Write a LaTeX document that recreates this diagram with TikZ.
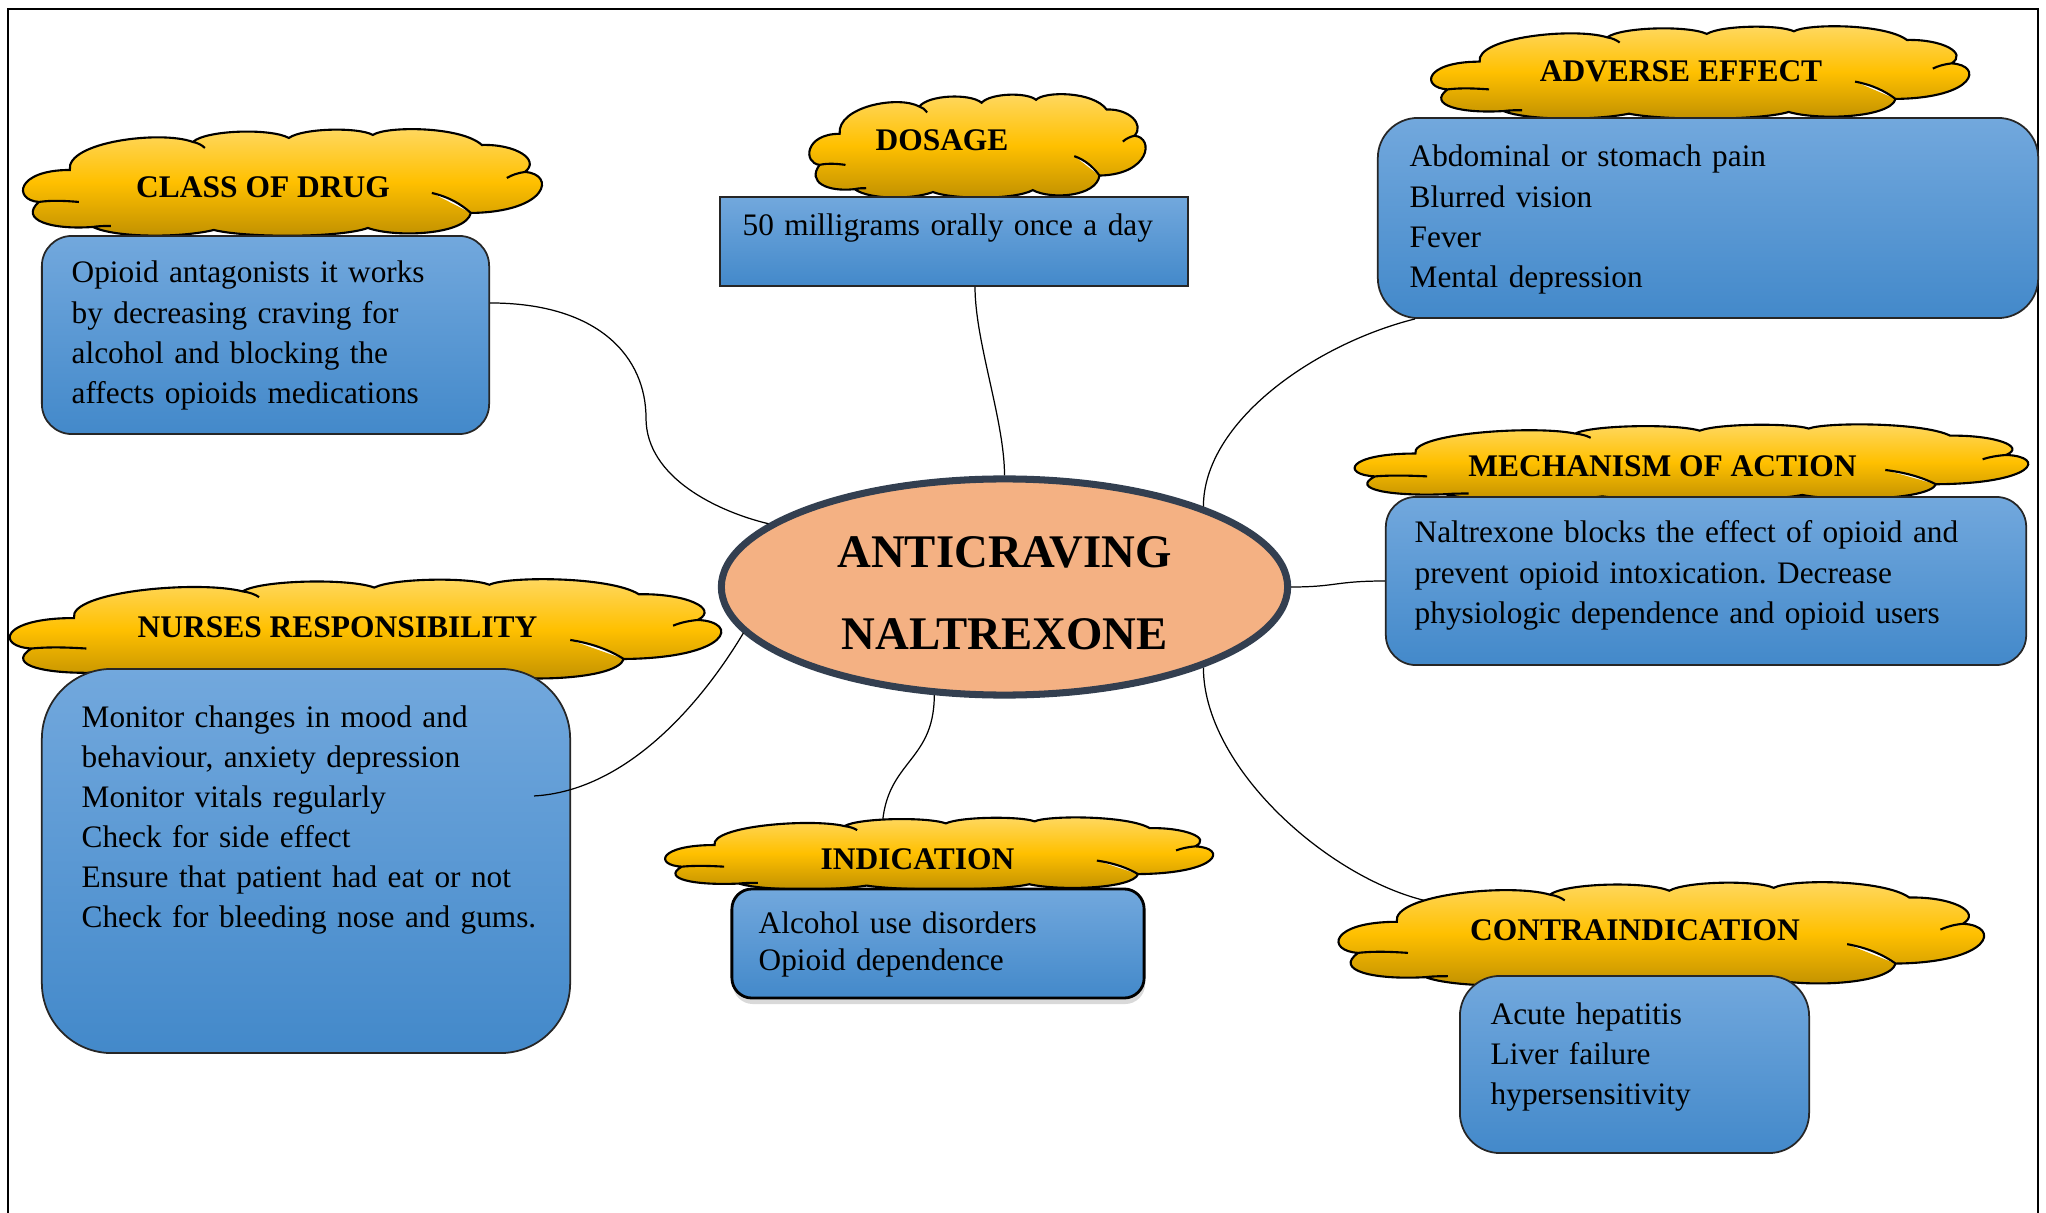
\documentclass[tikz,border=0pt]{standalone}
\usepackage{fontspec}
\setmainfont{Liberation Serif}
\usetikzlibrary{shapes.geometric,shadows,backgrounds}
\definecolor{boxtop}{RGB}{114,168,221}
\definecolor{boxbot}{RGB}{67,137,202}
\definecolor{cloudtop}{RGB}{255,217,100}
\definecolor{cloudmid}{RGB}{255,192,0}
\definecolor{cloudbot}{RGB}{191,143,0}
\definecolor{corefill}{RGB}{244,177,131}
\definecolor{coreline}{RGB}{51,63,80}
\newcommand{\cloudoutline}{(49,40) .. controls (45,12) and (140,0) .. (172,12)
	.. controls (185,0) and (250,-2) .. (268,8) .. controls (282,-2) and (338,-3) .. (352,5)
	.. controls (365,-4) and (440,-4) .. (461,15) .. controls (495,14) and (520,30) .. (504,42)
	.. controls (535,44) and (528,82) .. (450,83) .. controls (445,105) and (375,108) .. (347,98)
	.. controls (320,108) and (225,108) .. (193,100) .. controls (160,108) and (95,108) .. (72,97)
	.. controls (30,100) and (-2,90) .. (18,72) .. controls (-8,70) and (-5,40) .. (49,40) -- cycle}
\newcommand{\cloudcreases}{(18,72) .. controls (32,70) and (46,71) .. (58,72)
	(72,97) .. controls (78,96) and (84,96) .. (90,96)
	(172,12) .. controls (177,13) and (181,15) .. (184,18)
	(504,42) .. controls (497,43) and (491,45) .. (486,48)
	(450,83) .. controls (440,74) and (428,67) .. (411,63)}

\begin{document}
\begin{tikzpicture}[x=0.01cm,y=-0.01cm,font=\fontsize{8.9pt}{11.38pt}\selectfont]
	\frenchspacing
	\tikzset{spot/.style={rectangle, inner sep=0pt, outer sep=0pt}}
	\tikzset{bubble/.style={draw, line width=0.6pt, top color=cloudtop, bottom color=cloudbot, middle color=cloudmid}}
	\tikzset{panel/.style={draw=black!85, line width=0.5pt, top color=boxtop, bottom color=boxbot, inner sep=0pt}}
	\tikzset{heading/.style={anchor=base, inner sep=0pt, font=\fontsize{8.95pt}{11pt}\selectfont\bfseries}}
	\tikzset{body/.style={anchor=base west, inner sep=0pt, align=left}}
	\tikzset{link/.style={draw, line width=0.35pt}}
	\useasboundingbox (0,0) rectangle (2046,1213);
	\draw[line width=0.7pt] (8,1213) -- (8,9) -- (2038,9) -- (2038,1213);
	\node[spot, minimum width=5.2cm, minimum height=1.05cm] (classcloud) at (281,182.5) {};
	\draw[bubble, shift={(classcloud.north west)}] \cloudoutline \cloudcreases;
	\node[spot, minimum width=3.37cm, minimum height=1.02cm] (doscloud) at (976.5,146) {};
	\draw[bubble, shift={(doscloud.north west)}, xscale=0.648, yscale=0.971] \cloudoutline \cloudcreases;
	\node[spot, minimum width=5.39cm, minimum height=0.91cm] (adcloud) at (1698.5,72.5) {};
	\draw[bubble, shift={(adcloud.north west)}, xscale=1.037, yscale=0.867] \cloudoutline \cloudcreases;
	\node[spot, minimum width=6.75cm, minimum height=0.75cm] (mechcloud) at (1689.5,462.5) {};
	\draw[bubble, shift={(mechcloud.north west)}, xscale=1.298, yscale=0.714] \cloudoutline \cloudcreases;
	\node[spot, minimum width=7.13cm, minimum height=1cm] (nursecloud) at (363.5,630) {};
	\draw[bubble, shift={(nursecloud.north west)}, xscale=1.371, yscale=0.952] \cloudoutline \cloudcreases;
	\node[spot, minimum width=5.49cm, minimum height=0.71cm] (indcloud) at (937.5,853.5) {};
	\draw[bubble, shift={(indcloud.north west)}, xscale=1.056, yscale=0.676] \cloudoutline \cloudcreases;
	\node[spot, minimum width=6.47cm, minimum height=1.02cm] (contracloud) at (1659.5,934) {};
	\draw[bubble, shift={(contracloud.north west)}, xscale=1.244, yscale=0.971] \cloudoutline \cloudcreases;
	\node[heading] (classhead) at (263,198) {CLASS OF DRUG};
	\node[heading] (doshead) at (942,151) {DOSAGE};
	\node[heading] (adhead) at (1681,82) {ADVERSE EFFECT};
	\node[heading] (mechhead) at (1662.5,477) {MECHANISM OF ACTION};
	\node[heading] (nursehead) at (337.5,637) {NURSES RESPONSIBILITY};
	\node[heading] (indhead) at (917.5,869) {INDICATION};
	\node[heading] (contrahead) at (1635,940) {CONTRAINDICATION};
	\node[panel, rounded corners=0.3cm, minimum width=4.47cm, minimum height=1.98cm] (classbox) at (265.5,335) {};
	\node[panel, minimum width=4.68cm, minimum height=0.89cm] (dosbox) at (954,241.5) {};
	\node[panel, rounded corners=0.4cm, minimum width=6.6cm, minimum height=2cm] (adbox) at (1708,218) {};
	\node[panel, rounded corners=0.3cm, minimum width=6.4cm, minimum height=1.68cm] (mechbox) at (1706,581) {};
	\node[panel, rounded corners=0.7cm, minimum width=5.28cm, minimum height=3.84cm] (nursebox) at (306,861) {};
	\node[panel, rounded corners=0.2cm, line width=0.8pt, draw=black,
		drop shadow={shadow xshift=0.01cm, shadow yshift=-0.06cm, opacity=0.3},
		minimum width=4.12cm, minimum height=1.09cm] (indbox) at (938,943.5) {};
	\node[panel, rounded corners=0.4cm, minimum width=3.49cm, minimum height=1.77cm] (contrabox) at (1634.5,1064.5) {};
	\node[body, text width=3.9cm] (classtext) at (71,283) {Opioid antagonists it works\\by decreasing craving for\\alcohol and blocking the\\affects opioids medications};
	\node[body, text width=4.3cm] (dostext) at (742,236) {50 milligrams orally once a day};
	\node[body, text width=4cm] (adtext) at (1409,167) {Abdominal or stomach pain\\Blurred vision\\Fever\\Mental depression};
	\node[body, text width=5.8cm] (mechtext) at (1414,543) {Naltrexone blocks the effect of opioid and\\prevent opioid intoxication. Decrease\\physiologic dependence and opioid users};
	\node[body, text width=4.9cm] (nursetext) at (81,727) {Monitor changes in mood and\\behaviour, anxiety depression\\Monitor vitals regularly\\Check for side effect\\Ensure that patient had eat or not\\Check for bleeding nose and gums.};
	\node[body, text width=3.2cm, font=\fontsize{8.9pt}{10.8pt}\selectfont] (indtext) at (758,933) {Alcohol use disorders\\Opioid dependence};
	\node[body, text width=2.5cm] (contratext) at (1490,1024) {Acute hepatitis\\Liver failure\\hypersensitivity};
	\node[ellipse, draw=coreline, line width=2pt, fill=corefill, minimum width=5.66cm, minimum height=2.16cm,
		align=center, font=\fontsize{13.3pt}{23.3pt}\selectfont\bfseries] (core) at (1004.5,587) {\rule{0pt}{0.44cm}ANTICRAVING\\NALTREXONE};
	\draw[link] ([yshift=0.32cm]classbox.east) .. controls +(110,0) and +(0,-60) .. (646,418)
		.. controls +(0,60) and +(-50,-12) .. (core.165);
	\draw[link] ([xshift=0.21cm]dosbox.south) .. controls +(0,55) and +(0,-55) .. (core.north);
	\draw[link] ([xshift=0.38cm]adbox.south west) .. controls +(-100,25) and +(0,-85) .. (core.22);
	\draw[link] (mechbox.west) .. controls +(-50,0) and +(45,0) .. (core.east);
	\draw[link] ([xshift=-0.37cm,yshift=0.65cm]nursebox.east) .. controls +(90,-5) and +(-45,75) .. (core.190);
	\begin{scope}[on background layer]
		\draw[link] ([xshift=-0.555cm,yshift=0.185cm]indcloud.center) .. controls +(0,-75) and +(0,70) .. (core.237);
		\draw[link] (core.-22) .. controls +(0,110) and +(-100,-5) .. ([xshift=-2.05cm,yshift=0.29cm]contracloud.center);
	\end{scope}
\end{tikzpicture}
\end{document}
